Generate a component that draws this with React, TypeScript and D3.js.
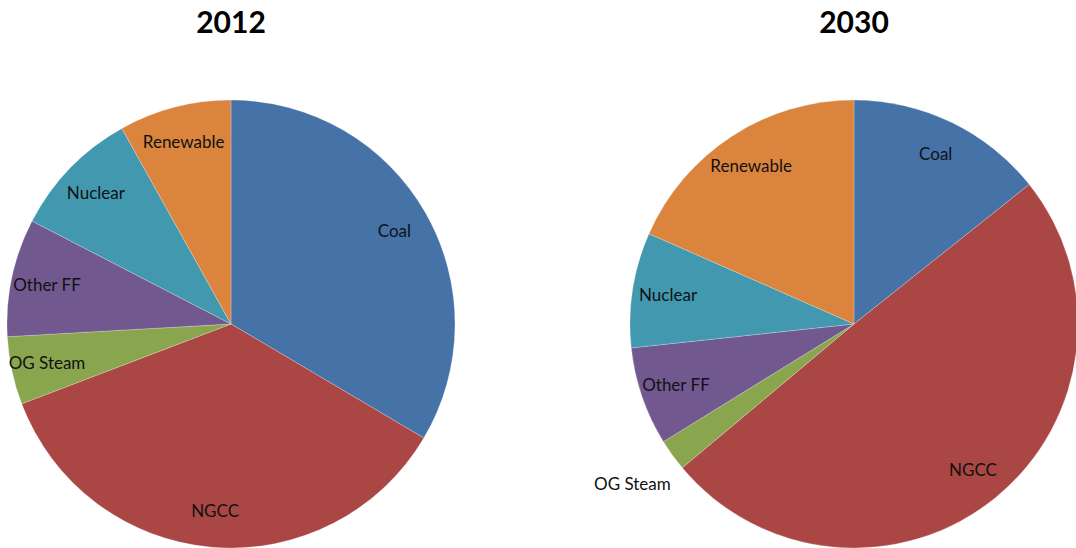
import React from "react";
import * as d3 from "d3";

const categories = ["Coal", "NGCC", "OG Steam", "Other FF", "Nuclear", "Renewable"];
const values2012 = [33.5, 35.7, 4.9, 8.5, 9.3, 8.1];
const values2030 = [14.3, 49.6, 2.3, 7.1, 8.3, 18.4];
const titles = ["2012", "2030"];
const colors = ["#4572A7", "#AA4643", "#89A54E", "#71588F", "#4198AF", "#DB843D"];

const W = 1076;
const H = 548;
const R = 224;
const centers = [
  { x: 231, y: 324 },
  { x: 854, y: 324 },
];

function Pie({ values, title, cx, cy }: { values: number[]; title: string; cx: number; cy: number }) {
  const pie = d3.pie<number>().sort(null).value((d) => d);
  const arcs = pie(values);
  const arc = d3.arc<d3.PieArcDatum<number>>().innerRadius(0).outerRadius(R);
  const color = d3.scaleOrdinal<string, string>().domain(categories).range(colors);
  const total = d3.sum(values);
  return (
    <g>
      <text
        x={cx}
        y={33}
        textAnchor="middle"
        fontFamily="Lato, 'Open Sans', sans-serif"
        fontWeight="bold"
        fontSize={30}
        fill="#000"
      >
        {title}
      </text>
      <g transform={`translate(${cx},${cy})`}>
        {arcs.map((a, i) => (
          <path key={i} d={arc(a) || ""} fill={color(categories[i])} stroke="#ffffff" strokeOpacity={0.4} strokeWidth={0.6} />
        ))}
        {arcs.map((a, i) => {
          const mid = (a.startAngle + a.endAngle) / 2;
          const small = a.value / total < 0.03;
          const lr = small ? R * 1.22 : R * 0.84;
          const x = Math.sin(mid) * lr;
          const y = -Math.cos(mid) * lr;
          return (
            <text
              key={"l" + i}
              x={x}
              y={y}
              dy="0.35em"
              textAnchor="middle"
              fontFamily="Lato, 'Open Sans', sans-serif"
              fontSize={17}
              fill="#111"
            >
              {categories[i]}
            </text>
          );
        })}
      </g>
    </g>
  );
}

export default function App() {
  return (
    <svg width={W} height={H} style={{ position: "absolute", left: 0, top: 0, background: "#fff" }}>
      <rect width={W} height={H} fill="#fff" />
      <Pie values={values2012} title={titles[0]} cx={centers[0].x} cy={centers[0].y} />
      <Pie values={values2030} title={titles[1]} cx={centers[1].x} cy={centers[1].y} />
    </svg>
  );
}
